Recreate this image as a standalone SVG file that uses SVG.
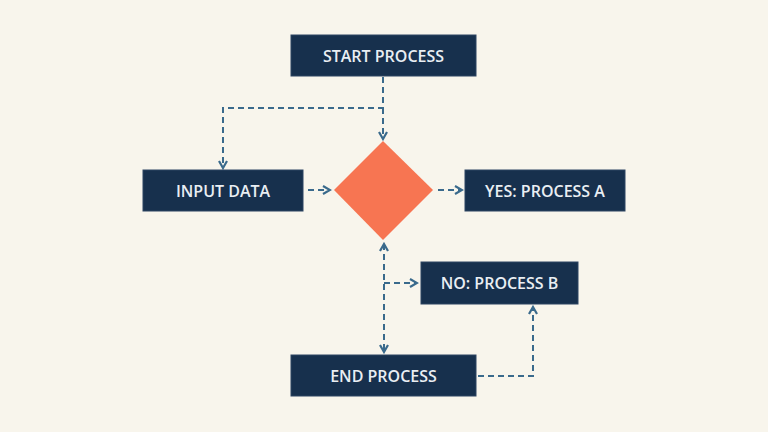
<svg xmlns="http://www.w3.org/2000/svg" width="768" height="432" viewBox="0 0 768 432">
<defs>
<marker id="ah" viewBox="0 0 10 10" refX="8" refY="5" markerWidth="10" markerHeight="10" markerUnits="userSpaceOnUse" orient="auto">
<path d="M1,1 L8,5 L1,9" fill="none" stroke="#3a6a8c" stroke-width="2.2"/>
</marker>
<marker id="as" viewBox="0 0 10 10" refX="2" refY="5" markerWidth="10" markerHeight="10" markerUnits="userSpaceOnUse" orient="auto">
<path d="M9,1 L2,5 L9,9" fill="none" stroke="#3a6a8c" stroke-width="2.2"/>
</marker>
</defs>
<style>
.box{fill:#17304d;stroke:#2c4562;stroke-width:1}
.lbl{font-family:"Open Sans","Liberation Sans",sans-serif;font-size:16px;font-weight:600;fill:#e9eef3;text-anchor:middle;dominant-baseline:central}
.c{fill:none;stroke:#3a6a8c;stroke-width:2;stroke-dasharray:6 4}
</style>
<rect width="768" height="432" fill="#f8f5ec"/>
<g id="connectors">
<path class="c" d="M383,77 V108 H223 V168" marker-end="url(#ah)"/>
<path class="c" d="M383,108 V139" marker-end="url(#ah)"/>
<path class="c" d="M308,190 H330" marker-end="url(#ah)"/>
<path class="c" d="M438,190 H462" marker-end="url(#ah)"/>
<path class="c" d="M384,244 V352" marker-start="url(#as)" marker-end="url(#ah)"/>
<path class="c" d="M384,283 H417" marker-end="url(#ah)"/>
<path class="c" d="M478,376 H533 V307" marker-end="url(#ah)"/>
</g>
<g id="start"><rect class="box" x="291" y="35" width="185" height="41"/><text class="lbl" x="383.5" y="56">START PROCESS</text></g>
<g id="input"><rect class="box" x="143" y="170" width="160" height="41"/><text class="lbl" x="223" y="191">INPUT DATA</text></g>
<g id="decision"><polygon points="383,141 433,190 383,240 334,190" fill="#f77552"/></g>
<g id="yes"><rect class="box" x="465" y="170" width="160" height="41"/><text class="lbl" x="545" y="191">YES: PROCESS A</text></g>
<g id="no"><rect class="box" x="421" y="262" width="157" height="42"/><text class="lbl" x="499.5" y="283">NO: PROCESS B</text></g>
<g id="end"><rect class="box" x="291" y="355" width="185" height="41"/><text class="lbl" x="383.5" y="376">END PROCESS</text></g>
</svg>
